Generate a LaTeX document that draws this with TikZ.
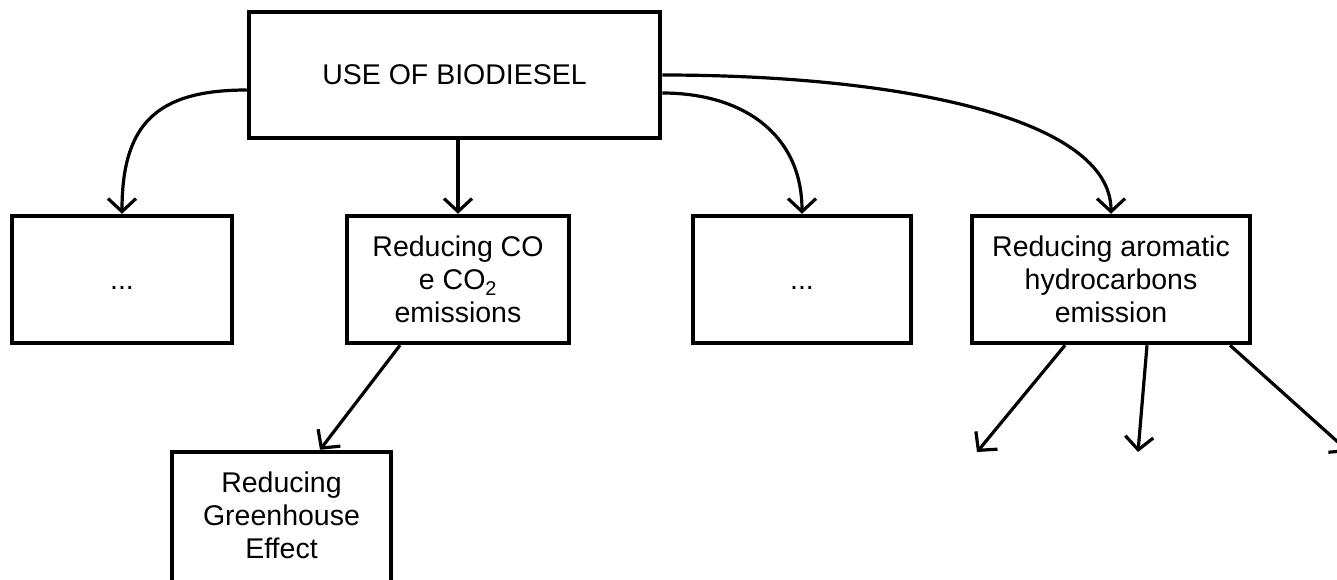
\documentclass[tikz,border=0pt]{standalone}
\usepackage{fontspec}
\setmainfont{Liberation Sans}
\usetikzlibrary{arrows.meta}
\begin{document}
\begin{tikzpicture}[x=1pt,y=-1pt,
  box/.style={draw,line width=4.5pt,rectangle,inner sep=0pt,align=center,
    font=\fontsize{28.5}{33}\selectfont},
  smallbox/.style={box,minimum height=127pt},
  dots/.style={text height=20pt,text depth=0pt},
  link/.style={line width=3.2pt,-{Straight Barb[length=13pt,width=28pt]}}]
\useasboundingbox (0,0) rectangle (1337,579);

% boxes
\node[box,minimum width=411pt,minimum height=126pt] (main) at (454.5,75) {USE OF BIODIESEL};
\node[smallbox,dots,minimum width=220pt] (b1) at (122,279.5) {...};
\node[smallbox,minimum width=222pt] (b2) at (458,279.5) {Reducing CO\\e CO\textsubscript{2}\\emissions};
\node[smallbox,dots,minimum width=218pt] (b3) at (802,279.5) {...};
\node[smallbox,minimum width=278pt] (b4) at (1111,279.5) {Reducing aromatic\\hydrocarbons\\emission};
\node[box,minimum width=219pt,minimum height=136pt,text depth=9pt] (b5) at (281.5,520) {Reducing\\Greenhouse\\Effect};

% open arrow ends below the aromatic hydrocarbons box
\coordinate (r1) at (977,452);
\coordinate (r2) at (1138,452);
\coordinate (r3) at (1349,452);

% connectors
\draw[link] (main.west |- 0,90) .. controls +(-90,0) and +(0,-90) .. (b1.north);
\draw[link] (main.south -| b2.north) -- (b2.north);
\draw[link] (main.east |- 0,93) .. controls +(80,0) and +(0,-80) .. (b3.north);
\draw[link] (main.east |- 0,75) .. controls +(240,0) and +(0,-95) .. (b4.north);
\draw[link] ([xshift=-58pt]b2.south) -- ([xshift=38.5pt]b5.north);
\draw[link] ([xshift=-46pt]b4.south) -- (r1);
\draw[link] ([xshift=36pt]b4.south) -- (r2);
\draw[link] ([xshift=119pt]b4.south) -- (r3);
\end{tikzpicture}
\end{document}
